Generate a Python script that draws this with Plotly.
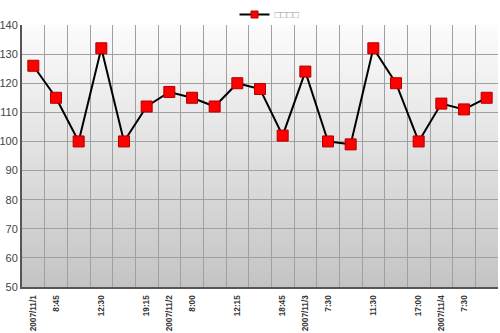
import base64, struct, zlib
import plotly.graph_objects as go

values = [126, 115, 100, 132, 100, 112, 117, 115, 112, 120, 118, 102, 124, 100, 99, 132, 120, 100, 113, 111, 115]
label_idx = [0, 1, 3, 5, 6, 7, 9, 11, 12, 13, 15, 17, 18, 19]
label_text = ["2007/11/1", "8:45", "12:30", "19:15", "2007/11/2", "8:00", "12:15",
              "18:45", "2007/11/3", "7:30", "11:30", "17:00", "2007/11/4", "7:30"]
series_name = "□□□□"
y_ticks = list(range(50, 141, 10))

x = list(range(len(values)))

# vertical gradient image (white -> grey)
def gradient_png(h=256, top=252, bottom=196):
    raw = b""
    for i in range(h):
        c = int(round(top + (bottom - top) * i / (h - 1)))
        raw += b"\x00" + bytes([c, c, c])
    def chunk(t, d):
        return struct.pack(">I", len(d)) + t + d + struct.pack(">I", zlib.crc32(t + d) & 0xffffffff)
    png = b"\x89PNG\r\n\x1a\n" + chunk(b"IHDR", struct.pack(">IIBBBBB", 1, h, 8, 2, 0, 0, 0))
    png += chunk(b"IDAT", zlib.compress(raw)) + chunk(b"IEND", b"")
    return "data:image/png;base64," + base64.b64encode(png).decode()

fig = go.Figure()
fig.add_trace(go.Scatter(
    x=x, y=values, mode="lines+markers", name=series_name, showlegend=False,
    line=dict(color="black", width=2),
    marker=dict(symbol="square", size=11, color="#ff0000", line=dict(color="#b00000", width=1)),
))
# legend entry (smaller symbol, as in the reference)
fig.add_trace(go.Scatter(
    x=[None], y=[None], mode="lines+markers", name=series_name,
    line=dict(color="black", width=2),
    marker=dict(symbol="square", size=7, color="#ff0000", line=dict(color="#b00000", width=1)),
))

fig.update_layout(
    width=500, height=333,
    margin=dict(l=22, r=2, t=25, b=46, autoexpand=False),
    paper_bgcolor="white", plot_bgcolor="white",
    font=dict(family="Liberation Sans, Arial, sans-serif", color="#333333"),
    showlegend=True,
    legend=dict(orientation="h", x=0.52, xanchor="center", y=1.0, yref="container", yanchor="top",
                font=dict(size=10, color="#999999"), itemwidth=30,
                bgcolor="rgba(0,0,0,0)", tracegroupgap=0),
    images=[dict(source=gradient_png(), xref="paper", yref="paper", x=0, y=1,
                 sizex=1, sizey=1, sizing="stretch", layer="below", xanchor="left", yanchor="top")],
    xaxis=dict(
        range=[-0.5, len(values) - 0.5],
        tickmode="array", tickvals=label_idx, ticktext=["<b>%s</b>" % t for t in label_text],
        tickangle=-90, tickfont=dict(size=8.2, color="#333333"),
        ticklabelstandoff=3,
        showgrid=False, ticks="",
        minor=dict(tick0=-0.5, dtick=1, showgrid=True, gridcolor="#a0a0a0", gridwidth=1, ticks=""),
        showline=True, linecolor="#555555", linewidth=2, mirror=False, zeroline=False,
    ),
    yaxis=dict(
        range=[50, 140], tickmode="array", tickvals=y_ticks,
        tickfont=dict(size=11, color="#444444"),
        showgrid=True, gridcolor="#a0a0a0", gridwidth=1, ticks="",
        showline=True, linecolor="#555555", linewidth=2, zeroline=False,
    ),
)

fig.write_html("out.html")
